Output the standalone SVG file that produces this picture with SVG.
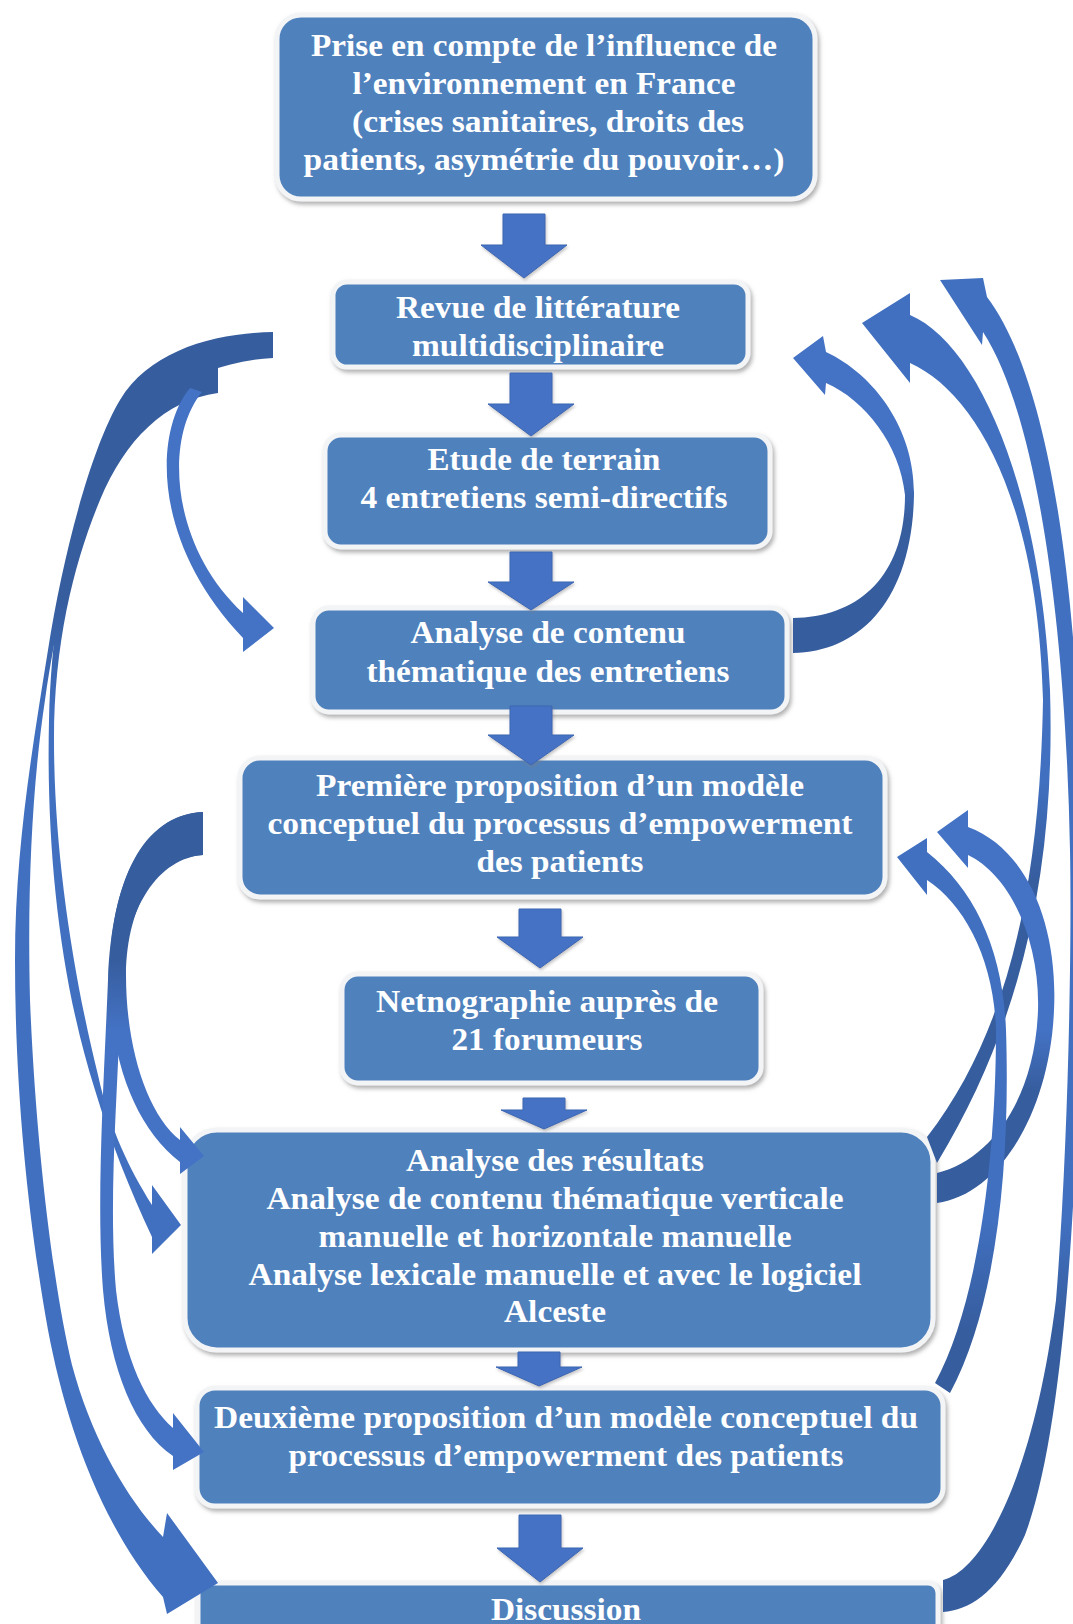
<svg xmlns="http://www.w3.org/2000/svg" width="1073" height="1624" viewBox="0 0 1073 1624">
  <defs>
    <style>
      .box { fill: #4F81BD; stroke: #F3F4F6; stroke-width: 5; filter: url(#boxShadow); }
      .label { font-family: "Liberation Serif", "Times New Roman", serif; font-weight: bold; font-size: 31px; fill: #FFFFFF; text-anchor: middle; }
      .down { fill: #4472C4; stroke: #3B66B3; stroke-width: 1; filter: url(#arrowShadow); }
      .light { fill: #4472C4; }
    </style>
    <filter id="boxShadow" x="-5%" y="-10%" width="112%" height="125%">
      <feDropShadow dx="2" dy="3" stdDeviation="2" flood-color="#6E6E6E" flood-opacity="0.55"/>
    </filter>
    <filter id="arrowShadow" x="-10%" y="-10%" width="130%" height="130%">
      <feDropShadow dx="1" dy="2" stdDeviation="1.5" flood-color="#7A7A7A" flood-opacity="0.45"/>
    </filter>
    <!-- vertical shading: darker ribbon back near the tail, lighter front near the head -->
    <linearGradient id="darkTop650" gradientUnits="userSpaceOnUse" x1="0" y1="600" x2="0" y2="720">
      <stop offset="0" stop-color="#365D9E"/>
      <stop offset="1" stop-color="#4170C0"/>
    </linearGradient>
    <linearGradient id="darkTop990" gradientUnits="userSpaceOnUse" x1="0" y1="960" x2="0" y2="1030">
      <stop offset="0" stop-color="#365D9E"/>
      <stop offset="1" stop-color="#4472C4"/>
    </linearGradient>
    <linearGradient id="lightTop490" gradientUnits="userSpaceOnUse" x1="0" y1="470" x2="0" y2="520">
      <stop offset="0" stop-color="#4472C4"/>
      <stop offset="1" stop-color="#365D9E"/>
    </linearGradient>
    <linearGradient id="lightTop820" gradientUnits="userSpaceOnUse" x1="0" y1="780" x2="0" y2="880">
      <stop offset="0" stop-color="#4170C0"/>
      <stop offset="1" stop-color="#365D9E"/>
    </linearGradient>
    <linearGradient id="lightTop1060" gradientUnits="userSpaceOnUse" x1="0" y1="1030" x2="0" y2="1090">
      <stop offset="0" stop-color="#4472C4"/>
      <stop offset="1" stop-color="#365D9E"/>
    </linearGradient>
    <linearGradient id="lightTop1260" gradientUnits="userSpaceOnUse" x1="0" y1="1220" x2="0" y2="1330">
      <stop offset="0" stop-color="#4170C0"/>
      <stop offset="1" stop-color="#365D9E"/>
    </linearGradient>
  </defs>

  <rect width="1073" height="1624" fill="#FFFFFF"/>

  <!-- process steps -->
  <g id="node-environnement">
    <rect class="box" x="277" y="15" width="538" height="184" rx="24"/>
    <text class="label" x="544" y="56" textLength="466" lengthAdjust="spacingAndGlyphs">Prise en compte de l’influence de</text>
    <text class="label" x="544" y="94" textLength="383" lengthAdjust="spacingAndGlyphs">l’environnement en France</text>
    <text class="label" x="548" y="132" textLength="392" lengthAdjust="spacingAndGlyphs">(crises sanitaires, droits des</text>
    <text class="label" x="544" y="170" textLength="481" lengthAdjust="spacingAndGlyphs">patients, asymétrie du pouvoir…)</text>
  </g>

  <g id="node-revue">
    <rect class="box" x="333" y="282" width="415" height="85" rx="14"/>
    <text class="label" x="538" y="318" textLength="284" lengthAdjust="spacingAndGlyphs">Revue de littérature</text>
    <text class="label" x="538" y="356" textLength="252" lengthAdjust="spacingAndGlyphs">multidisciplinaire</text>
  </g>

  <g id="node-terrain">
    <rect class="box" x="325" y="435" width="445" height="112" rx="16"/>
    <text class="label" x="544" y="470" textLength="233" lengthAdjust="spacingAndGlyphs">Etude de terrain</text>
    <text class="label" x="544" y="508" textLength="367" lengthAdjust="spacingAndGlyphs">4 entretiens semi-directifs</text>
  </g>

  <g id="node-analyse-entretiens">
    <rect class="box" x="313" y="608" width="474" height="104" rx="16"/>
    <text class="label" x="548" y="643" textLength="275" lengthAdjust="spacingAndGlyphs">Analyse de contenu</text>
    <text class="label" x="548" y="682" textLength="363" lengthAdjust="spacingAndGlyphs">thématique des entretiens</text>
  </g>

  <g id="node-premiere-proposition">
    <rect class="box" x="240" y="758" width="645" height="139" rx="20"/>
    <text class="label" x="560" y="796" textLength="488" lengthAdjust="spacingAndGlyphs">Première proposition d’un modèle</text>
    <text class="label" x="560" y="834" textLength="585" lengthAdjust="spacingAndGlyphs">conceptuel du processus d’empowerment</text>
    <text class="label" x="560" y="872" textLength="167" lengthAdjust="spacingAndGlyphs">des patients</text>
  </g>

  <g id="node-netnographie">
    <rect class="box" x="342" y="974" width="419" height="109" rx="16"/>
    <text class="label" x="547" y="1012" textLength="342" lengthAdjust="spacingAndGlyphs">Netnographie auprès de</text>
    <text class="label" x="547" y="1050" textLength="191" lengthAdjust="spacingAndGlyphs">21 forumeurs</text>
  </g>

  <g id="node-analyse-resultats">
    <rect class="box" x="185" y="1130" width="748" height="220" rx="32"/>
    <text class="label" x="555" y="1171" textLength="298" lengthAdjust="spacingAndGlyphs">Analyse des résultats</text>
    <text class="label" x="555" y="1209" textLength="577" lengthAdjust="spacingAndGlyphs">Analyse de contenu thématique verticale</text>
    <text class="label" x="555" y="1247" textLength="473" lengthAdjust="spacingAndGlyphs">manuelle et horizontale manuelle</text>
    <text class="label" x="555" y="1285" textLength="613" lengthAdjust="spacingAndGlyphs">Analyse lexicale manuelle et avec le logiciel</text>
    <text class="label" x="555" y="1322" textLength="102" lengthAdjust="spacingAndGlyphs">Alceste</text>
  </g>

  <g id="node-deuxieme-proposition">
    <rect class="box" x="197" y="1388" width="746" height="118" rx="18"/>
    <text class="label" x="566" y="1428" textLength="704" lengthAdjust="spacingAndGlyphs">Deuxième proposition d’un modèle conceptuel du</text>
    <text class="label" x="566" y="1466" textLength="555" lengthAdjust="spacingAndGlyphs">processus d’empowerment des patients</text>
  </g>

  <g id="node-discussion">
    <rect class="box" x="198" y="1583" width="740" height="80" rx="10"/>
    <text class="label" x="566" y="1620" textLength="150" lengthAdjust="spacingAndGlyphs">Discussion</text>
  </g>

  <g id="connectors">
    <!-- straight block arrows between consecutive steps -->
    <path class="down" d="M 503 214 H 545 V 245 H 567 L 524 278 L 481 245 H 503 Z"/>
    <path class="down" d="M 510 373 H 552 V 404 H 574 L 531 436 L 488 404 H 510 Z"/>
    <path class="down" d="M 510 552 H 552 V 582 H 574 L 531 610 L 488 582 H 510 Z"/>
    <path class="down" d="M 510 706 H 552 V 735 H 574 L 531 765 L 488 735 H 510 Z"/>
    <path class="down" d="M 519 909 H 561 V 937 H 583 L 540 968 L 497 937 H 519 Z"/>
    <path class="down" d="M 523 1098 H 565 V 1110 H 587 L 544 1129 L 501 1110 H 523 Z"/>
    <path class="down" d="M 518 1352 H 560 V 1367 H 582 L 539 1386 L 496 1367 H 518 Z"/>
    <path class="down" d="M 519 1515 H 561 V 1548 H 583 L 540 1582 L 497 1548 H 519 Z"/>

    <!-- left-hand feedback ribbons -->
    <path id="revue-to-discussion" fill="url(#darkTop650)" d="M 273 332 C 215 333, 150 350, 120 400 C 90 450, 62 560, 48 650 C 32 750, 15 850, 15 960 C 15 1100, 30 1230, 48 1330 C 65 1420, 100 1525, 163 1597 L 167 1614 L 218 1583 L 167 1513 L 163 1537 C 128 1500, 92 1440, 72 1365 C 54 1290, 36 1150, 30 1000 C 27 880, 33 780, 45 700 C 58 610, 78 530, 105 470 C 135 410, 190 362, 273 358 Z"/>
    <path id="revue-to-resultats" fill="url(#darkTop650)" d="M 218 343 C 165 346, 120 390, 98 450 C 70 530, 52 610, 49 720 C 46 850, 60 980, 95 1090 C 110 1140, 130 1190, 152 1237 L 152 1254 L 181 1225 L 152 1185 L 152 1205 C 130 1170, 110 1130, 98 1075 C 72 970, 54 850, 54 740 C 54 640, 75 560, 100 500 C 125 440, 165 400, 218 393 Z"/>
    <path id="revue-to-analyse" class="light" d="M 190 388 C 155 430, 150 540, 243 638 L 243 652 L 274 628 L 243 597 L 243 613 C 172 548, 163 440, 202 392 Z"/>
    <path id="premiere-to-deuxieme" fill="url(#darkTop990)" d="M 203 812 C 142 815, 112 880, 108 980 C 104 1080, 96 1200, 103 1290 C 110 1370, 135 1430, 173 1456 L 173 1470 L 204 1452 L 173 1413 L 173 1428 C 147 1405, 124 1360, 116 1290 C 108 1200, 118 1090, 121 990 C 124 905, 160 858, 203 855 Z"/>
    <path id="premiere-to-resultats" fill="url(#darkTop990)" d="M 203 812 C 150 814, 115 870, 110 960 C 106 1050, 132 1125, 180 1162 L 180 1174 L 204 1156 L 180 1127 L 180 1140 C 148 1115, 126 1050, 126 975 C 127 900, 160 857, 203 855 Z"/>

    <!-- right-hand feedback ribbons -->
    <path id="analyse-to-revue" fill="url(#lightTop490)" d="M 793 653 C 860 652, 912 600, 914 495 C 915 430, 875 375, 826 352 L 823 336 L 793 358 L 825 395 L 826 383 C 865 400, 900 445, 905 495 C 905 575, 860 617, 793 618 Z"/>
    <path id="resultats-to-revue" fill="url(#lightTop820)" d="M 910 315 C 975 342, 1040 480, 1050 690 C 1055 850, 1030 1010, 937 1163 L 927 1137 C 1010 1030, 1040 880, 1043 700 C 1038 500, 975 392, 910 363 L 910 383 L 862 323 L 910 293 Z"/>
    <path id="discussion-to-revue" fill="url(#lightTop1260)" d="M 987 297 C 1050 380, 1084 600, 1082 900 C 1080 1150, 1068 1420, 1025 1535 C 1000 1590, 972 1610, 943 1612 L 943 1580 C 985 1570, 1035 1470, 1056 1300 C 1068 1150, 1072 950, 1070 850 C 1066 640, 1040 420, 983 332 L 982 345 L 940 280 L 983 278 Z"/>
    <path id="resultats-to-premiere" fill="url(#lightTop1060)" d="M 968 827 C 1030 850, 1058 930, 1054 1010 C 1050 1110, 1000 1195, 937 1203 L 937 1173 C 990 1160, 1035 1100, 1038 1010 C 1040 940, 1010 875, 968 855 L 968 868 L 937 832 L 968 810 Z"/>
    <path id="deuxieme-to-premiere" fill="url(#lightTop1260)" d="M 927 852 C 975 890, 1003 950, 1006 1030 C 1010 1150, 1000 1300, 950 1393 L 935 1383 C 980 1300, 996 1150, 996 1030 C 994 960, 965 905, 927 880 L 927 895 L 897 857 L 927 838 Z"/>
  </g>
</svg>
